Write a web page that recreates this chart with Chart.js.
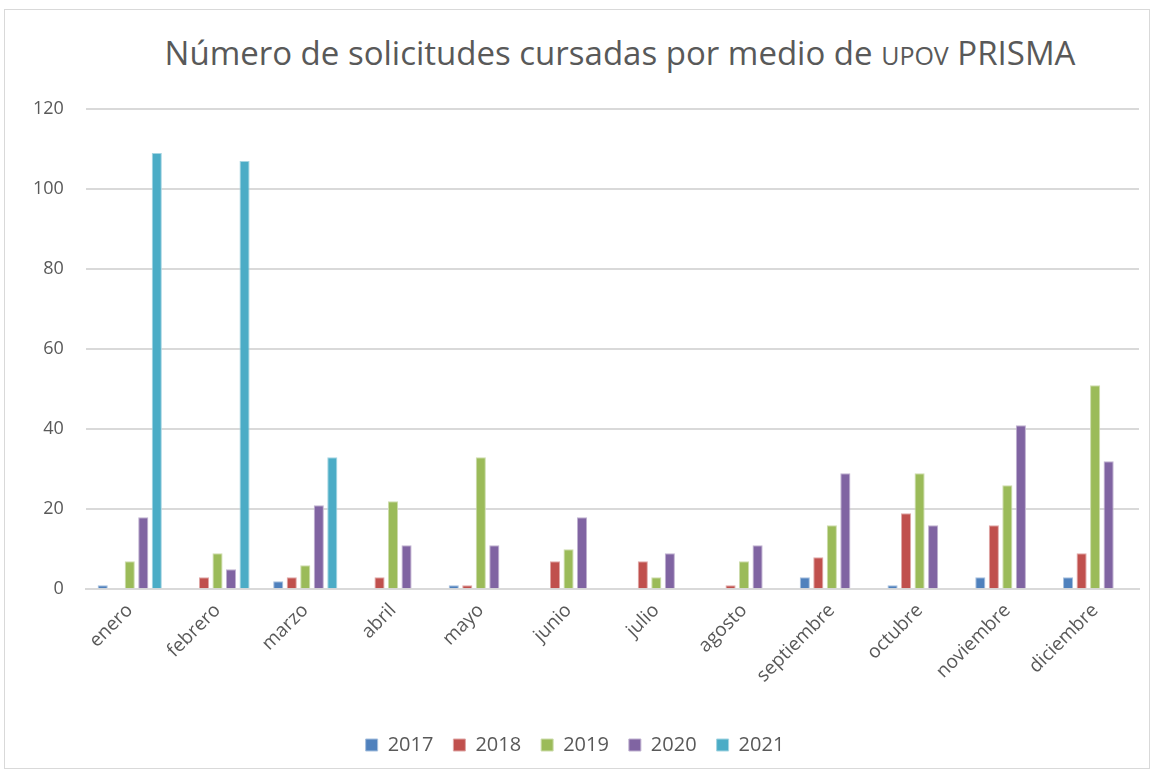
<!DOCTYPE html>
<html>
<head>
<meta charset="utf-8">
<script src="https://cdn.jsdelivr.net/npm/chart.js@4"></script>
<style>
  body { margin: 0; background: #fff; }
  #box {
    position: absolute; left: 4px; top: 9px; width: 1146px; height: 760px;
    border: 1px solid #d9d9d9; box-sizing: border-box;
  }
  #title {
    position: absolute; left: 0; right: 0; top: 20px; text-align: center;
    font-family: "Open Sans", sans-serif; font-size: 33px; color: #595959;
    padding-left: 86px;
  }
  #title .sc { font-size: 25px; }
  #wrap { position: absolute; left: 0; top: 0; width: 1144px; height: 758px; }
</style>
</head>
<body>
<div id="box">
  <div id="title">Número de solicitudes cursadas por medio de <span class="sc">UPOV</span> PRISMA</div>
  <div id="wrap"><canvas id="myChart"></canvas></div>
</div>
<script>
const months = ['enero', 'febrero', 'marzo', 'abril', 'mayo', 'junio', 'julio', 'agosto', 'septiembre', 'octubre', 'noviembre', 'diciembre'];
const years = ['2017', '2018', '2019', '2020', '2021'];

const data2017 = [1, 0, 2, 0, 1, 0, 0, 0, 3, 1, 3, 3];
const data2018 = [0, 3, 3, 3, 1, 7, 7, 1, 8, 19, 16, 9];
const data2019 = [7, 9, 6, 22, 33, 10, 3, 7, 16, 29, 26, 51];
const data2020 = [18, 5, 21, 11, 11, 18, 9, 11, 29, 16, 41, 32];
const data2021 = [109, 107, 33, 0, 0, 0, 0, 0, 0, 0, 0, 0];

const colors = ['#4f81bd', '#c0504d', '#9bbb59', '#8064a2', '#4bacc6'];
const borders = ['#a7c0de', '#dfa7a6', '#cddcac', '#bfb1d0', '#a5d5e2'];

const seriesData = [data2017, data2018, data2019, data2020, data2021];

const ctx = document.getElementById('myChart').getContext('2d');
new Chart(ctx, {
  type: 'bar',
  data: {
    labels: months,
    datasets: years.map((y, i) => ({
      label: y,
      data: seriesData[i],
      backgroundColor: colors[i],
      borderColor: borders[i],
      borderWidth: 1
    }))
  },
  options: {
    responsive: true,
    maintainAspectRatio: false,
    animation: false,
    layout: { padding: { top: 99, right: 10, left: 6, bottom: 3 } },
    datasets: { bar: { categoryPercentage: 0.77, barPercentage: 0.75 } },
    plugins: {
      title: { display: false },
      tooltip: { enabled: false },
      legend: {
        position: 'bottom',
        labels: {
          font: { family: 'Open Sans', size: 20 },
          color: '#595959',
          boxWidth: 12,
          boxHeight: 12,
          padding: 20
        }
      }
    },
    scales: {
      x: {
        grid: { display: false, drawTicks: false },
        border: { color: '#d9d9d9', width: 2 },
        afterFit: (scale) => { scale.height += 18; },
        ticks: {
          font: { family: 'Open Sans', size: 19 },
          color: '#595959',
          maxRotation: 45,
          minRotation: 45,
          padding: 10
        }
      },
      y: {
        min: 0,
        max: 120,
        ticks: {
          stepSize: 20,
          font: { family: 'Open Sans', size: 18 },
          color: '#595959',
          padding: 22
        },
        grid: { color: '#d9d9d9', lineWidth: 2, drawTicks: false },
        border: { display: false }
      }
    }
  }
});
</script>
</body>
</html>
